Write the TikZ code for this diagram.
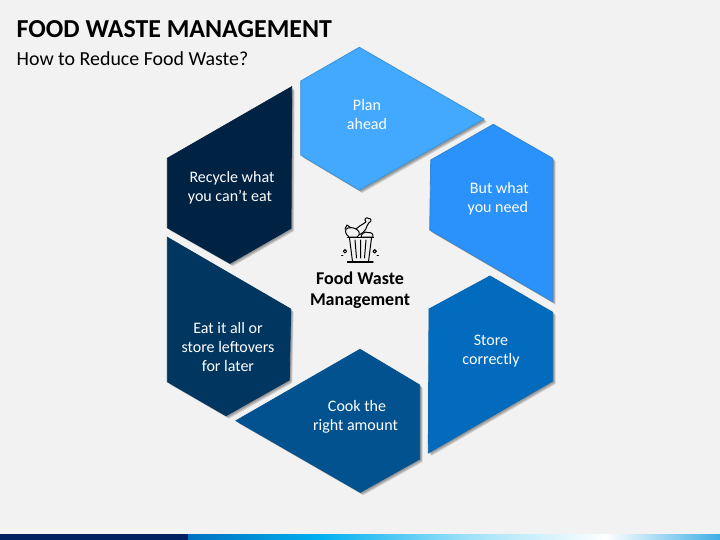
\documentclass[tikz,border=0pt]{standalone}
\usepackage{fontspec}
\setmainfont{Carlito}
\definecolor{bgc}{HTML}{F2F2F2}
\definecolor{cplan}{HTML}{42A9FF}
\definecolor{lplan}{HTML}{3C94D8}
\definecolor{cbut}{HTML}{2B91FB}
\definecolor{lbut}{HTML}{3585D0}
\definecolor{cstore}{HTML}{036BBE}
\definecolor{cstoreb}{HTML}{0A66AE}
\definecolor{ccook}{HTML}{01528F}
\definecolor{ceat}{HTML}{003660}
\definecolor{crec}{HTML}{002344}
\definecolor{bara}{HTML}{002060}
\definecolor{barb}{HTML}{0070C0}
\definecolor{barc}{HTML}{00B0F0}
\definecolor{bard}{HTML}{A0E2F8}
\definecolor{bare}{HTML}{3FAEE6}
\newcommand{\piece}[3]{%
  \foreach \d in {3.0,2.4,1.8,1.2}{\fill[black,opacity=0.11,shift={(\d,\d)}] #1 -- cycle;}
  \draw[line width=0.8pt,line join=miter,fill=#2,draw=#3] #1 -- cycle;}
\tikzset{
  lab/.style={text=white, font=\fontsize{16}{19}\selectfont, align=center, inner sep=0pt},
  cen/.style={text=black, font=\fontsize{18}{21}\selectfont\bfseries, align=center, inner sep=0pt},
  ico/.style={draw=black, line width=1pt, line join=round, line cap=round},
  icofill/.style={ico, fill=bgc}
}
\begin{document}
\begin{tikzpicture}[x=1pt,y=-1pt]
\useasboundingbox (0,0) rectangle (720,540);
\fill[bgc] (0,0) rectangle (720,540);
% bottom bar
\fill[bara] (0,534) rectangle (188,540);
\shade[left color=barb,right color=barc,shading angle=90] (188,534) rectangle (320,540);
\shade[left color=barc,right color=bard,shading angle=90] (319.8,534) rectangle (470,540);
\shade[left color=bard,right color=white,shading angle=90] (469.8,534) rectangle (606,540);
\shade[left color=white,right color=bare,shading angle=90] (605.8,534) rectangle (720,540);
% titles
\node[anchor=base west,inner sep=0pt,font=\fontsize{25.9}{28}\selectfont\bfseries] (title) at (16.5,37.5) {FOOD WASTE MANAGEMENT};
\node[anchor=base west,inner sep=0pt,font=\fontsize{19.9}{22}\selectfont] (subtitle) at (16.5,66) {How to Reduce Food Waste?};
% hexagon pieces
\piece{(359.3,47.3) -- (484,119) -- (359.3,190) -- (300.7,155) -- (300.7,81)}{cplan}{lplan}
\piece{(493.3,124.3) -- (552.7,158.3) -- (552.7,301.7) -- (429.7,230) -- (430.7,160)}{cbut}{lbut}
\piece{(490,276) -- (552.7,312.3) -- (552.7,381) -- (428.3,453) -- (429,309)}{cstore}{cstoreb}
\piece{(360,349.3) -- (419.7,385) -- (419.7,459) -- (360.3,492.3) -- (236,420.7)}{ccook}{ccook}
\piece{(167.3,237.3) -- (290.7,309) -- (289.3,380) -- (226,415.7) -- (167.3,381.7)}{ceat}{ceat}
\piece{(291.7,86.7) -- (291,228.3) -- (230,263.3) -- (167.3,227.7) -- (167.3,158.3)}{crec}{crec}
% labels
\node[lab] (plan) at (367,114.5) {Plan\\ahead};
\node[lab] (but) at (497.8,198.5) {\hspace*{3pt}But what\\you need};
\node[lab] (store) at (491,351) {Store\\correctly};
\node[lab] (cook) at (355.5,416.5) {\hspace*{3pt}Cook the\\right amount};
\node[lab] (eat) at (228,347) {Eat it all or\\store leftovers\\for later};
\node[lab] (rec) at (230,188) {\hspace*{4pt}Recycle what\\you can’t eat};
\node[cen] (centre) at (360,290) {Food Waste\\Management};
% icon
\draw[ico] (347.5,237.5) -- (373.5,237.5);
\draw[ico] (349.5,238) -- (352.5,261.5) (371.5,238) -- (368.5,261.5);
\draw[ico] (355,240) -- (356.5,258) (360.5,240) -- (360.5,258) (366,240) -- (364.5,258);
\draw[ico,line width=1.2pt] (347.5,262) -- (373,262);
\draw[icofill] (345,251.3) circle (1.7);
\draw[icofill] (374.7,251.3) circle (1.7);
\draw[ico,line width=.7pt] (341.5,255.5) -- (343,255.5) (377,255.5) -- (378.5,255.5);
\draw[icofill] (356,229) .. controls (358,227) and (361,225) .. (363,224) -- (366,222) .. controls (363,219) and (367,216.5) .. (368.5,218.5) .. controls (371.5,218) and (372,222) .. (369,222.5) -- (367,226) .. controls (366,231) and (361,235) .. (357,235) -- cycle;
\draw[icofill] (349,237) .. controls (345,234) and (344,229) .. (348,228) .. controls (352,226.5) and (358,229) .. (359,232) .. controls (360,234) and (359,236) .. (357,237) -- cycle;
\draw[ico] (345,229) -- (347,225) -- (351,228);
\draw[icofill] (361,237) .. controls (361,234) and (365,231) .. (368,232.5) .. controls (371,232) and (373.5,234) .. (373,237) -- cycle;
\end{tikzpicture}
\end{document}
